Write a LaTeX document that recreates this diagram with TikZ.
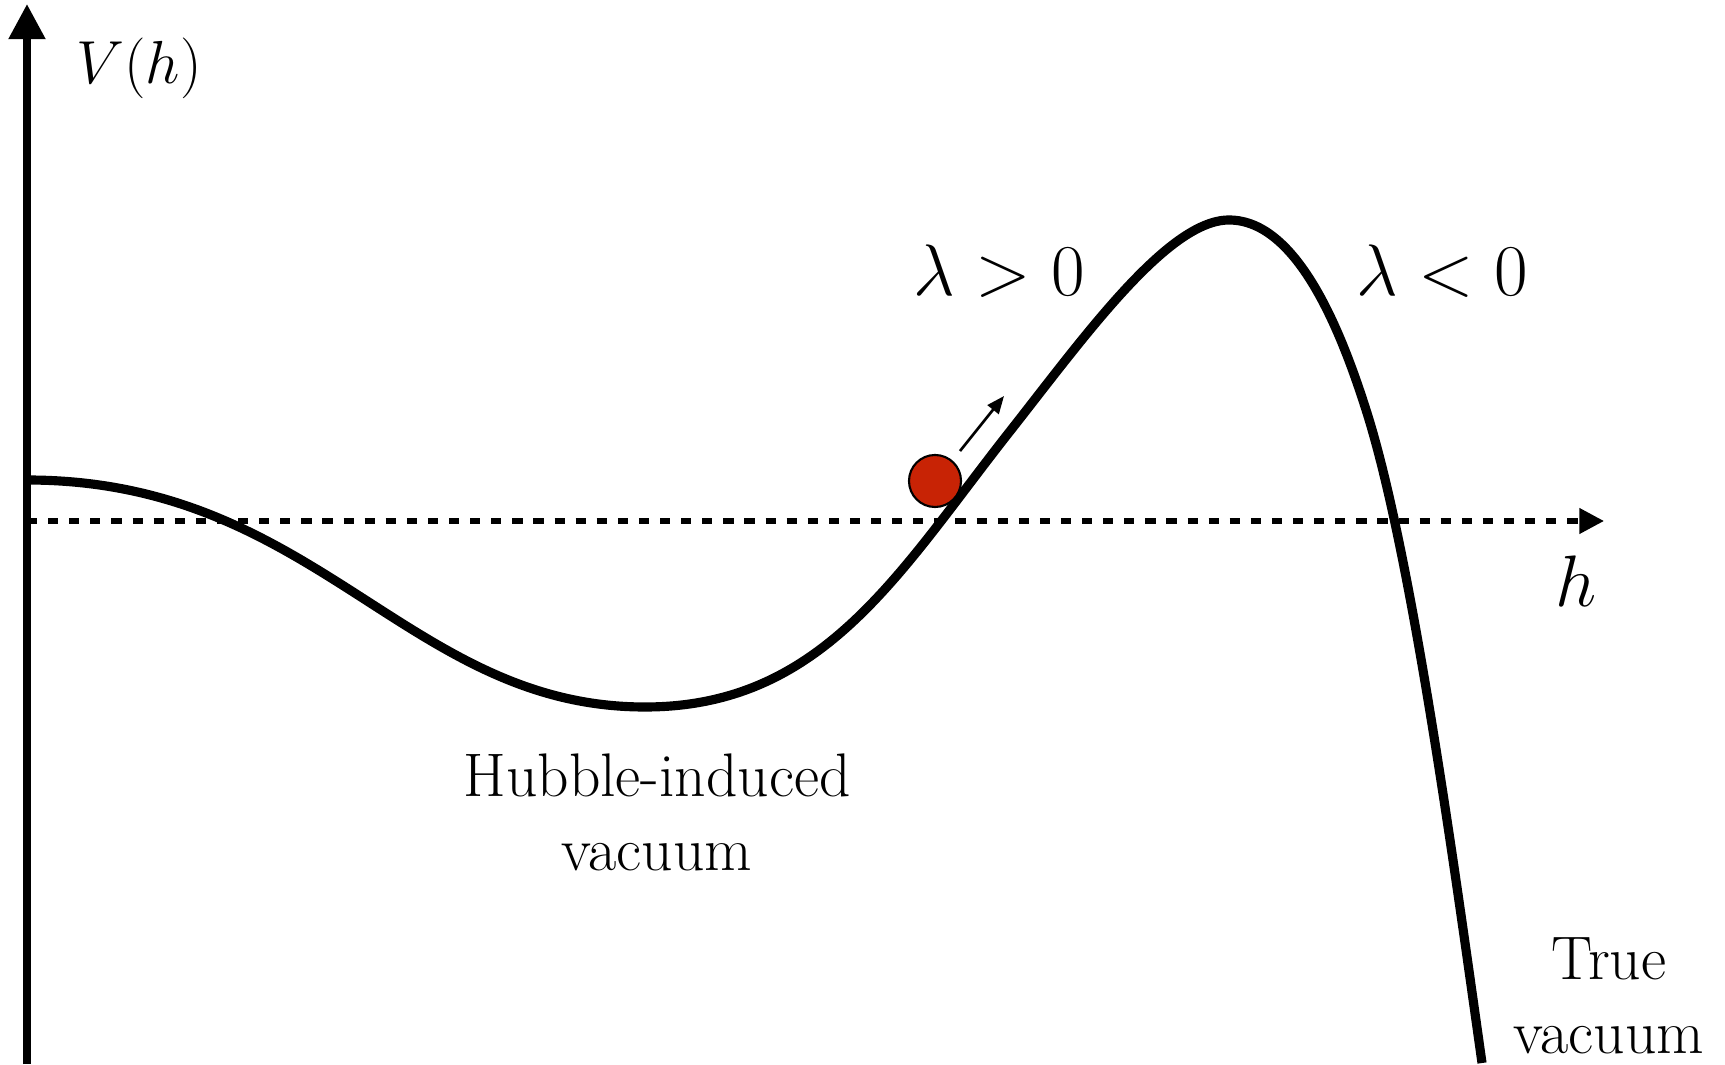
\documentclass[tikz,border=0pt]{standalone}
\usetikzlibrary{positioning,arrows.meta}
\definecolor{BallRed}{HTML}{C82305}
\newcommand{\TextSize}{\fontsize{17.5}{21}\selectfont}
\newcommand{\MathSize}{\fontsize{19.5}{23}\selectfont}
\newcommand{\AxisSize}{\fontsize{17.5}{21}\selectfont}
\tikzset{
  axis/.style={line width=2.2pt, -{Triangle[length=10pt,width=10pt]}},
  haxis/.style={line width=1.5pt, dash pattern=on 2.9pt off 3.1pt,
                -{Triangle[length=7pt,width=7pt]}},
  potential/.style={line width=2.6pt},
  ball/.style={circle, draw=black, line width=0.6pt, fill=BallRed,
               inner sep=0pt, minimum size=0.52cm},
  kick/.style={line width=0.75pt, -{Triangle[length=5pt,width=4pt]}},
  lbl/.style={align=center, font=\TextSize},
}
\begin{document}
\begin{tikzpicture}[x=0.01cm, y=0.01cm]
  \useasboundingbox (-27,-543) rectangle (1698,521);
  % axes
  \coordinate (origin) at (0,0);
  \coordinate (ybot) at (0,-543);
  \coordinate (ytop) at (0,517);
  \coordinate (xend) at (1577,0);
  \draw[axis] (ybot) -- (ytop);
  \draw[haxis] (origin) -- (xend);
  \node[font=\AxisSize] (vlab) at (112,453) {$V(h)$};
  \node[font=\MathSize] (hlab) at (1549,-60) {$h$};
  % potential
  \draw[potential] (0,41) .. controls (290,41) and (380,-186) .. (618,-186)
    .. controls (795,-186) and (871,-53) .. (980,86)
    .. controls (1055,181) and (1140,301) .. (1202,301)
    .. controls (1272,301) and (1316,184) .. (1340,108)
    .. controls (1385,-35) and (1427,-344) .. (1455,-542);
  % field rolling up
  \node[ball] (ball) at (908,40) {};
  \coordinate (kickstart) at (933,70);
  \coordinate (kickend) at (977,125);
  \draw[kick] (kickstart) -- (kickend);
  % labels
  \node[font=\MathSize] (lpos) at (972,250) {$\lambda > 0$};
  \node[font=\MathSize] (lneg) at (1415,250) {$\lambda < 0$};
  \node[lbl] (hubble) at (630,-291) {Hubble-induced\\vacuum};
  \node[lbl] (truevac) at (1582,-475) {True\\vacuum};
\end{tikzpicture}
\end{document}
